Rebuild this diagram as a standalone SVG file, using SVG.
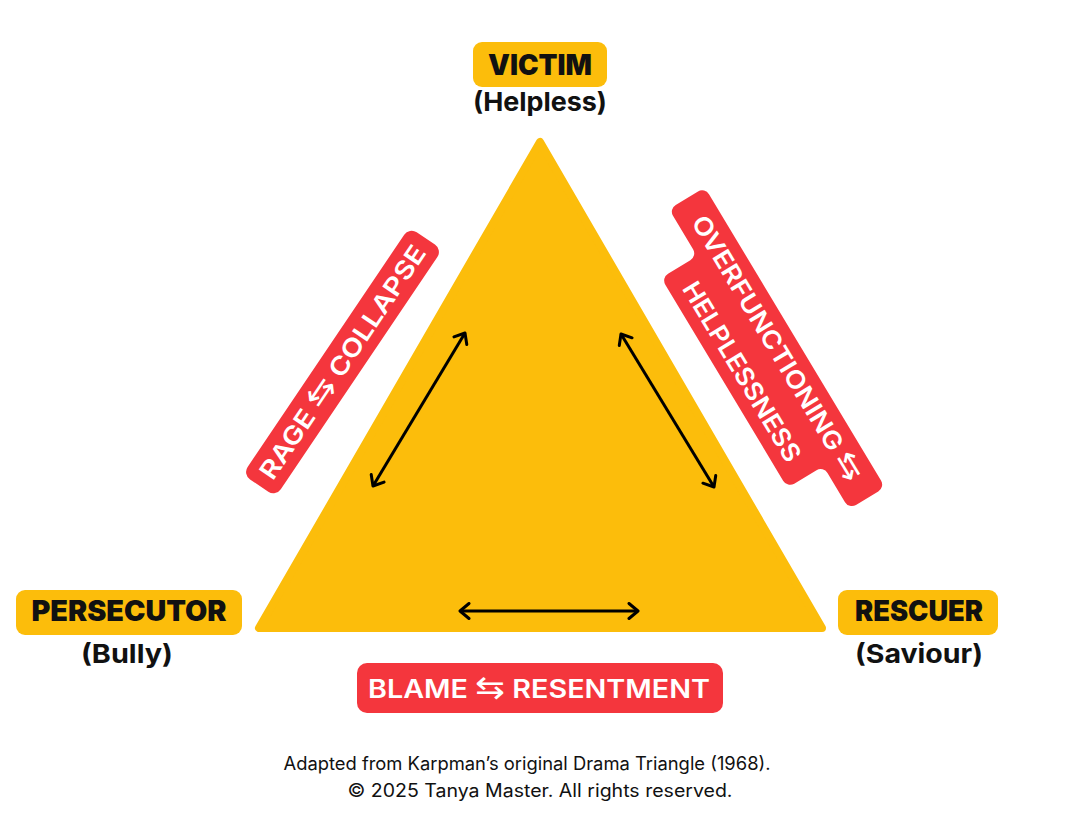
<svg xmlns="http://www.w3.org/2000/svg" width="1080" height="819" viewBox="0 0 1080 819">
<style>
.tag{fill:#FCBD0B}
.role{font-family:Inter,"DejaVu Sans",sans-serif;font-weight:900;font-size:28px;fill:#111;text-anchor:middle}
.sub{font-family:Inter,"DejaVu Sans",sans-serif;font-weight:700;font-size:26px;fill:#111;text-anchor:middle}
.red{fill:#F4363D}
.dyn{font-family:Inter,"DejaVu Sans",sans-serif;font-weight:600;font-size:25px;fill:#fff;text-anchor:middle}
.sym{font-family:"DejaVu Sans",sans-serif;font-weight:400;font-size:31px}
.foot{font-family:Inter,"DejaVu Sans",sans-serif;font-weight:400;font-size:18px;fill:#111;text-anchor:middle}
.arr{stroke:#000;stroke-width:3;fill:none;marker-start:url(#ah);marker-end:url(#ah)}
</style>
<defs>
<marker id="ah" markerUnits="userSpaceOnUse" viewBox="0 0 18 18" markerWidth="18" markerHeight="18" refX="15" refY="9" orient="auto-start-reverse">
<path d="M6,1.5 L15,9 L6,16.5" fill="none" stroke="#000" stroke-width="3" stroke-linecap="round" stroke-linejoin="round"/>
</marker>
</defs>
<rect width="1080" height="819" fill="#fff"/>
<g id="triangle">
<polygon points="540,142 259,628 822,628" fill="#FCBD0B" stroke="#FCBD0B" stroke-width="8" stroke-linejoin="round"/>
</g>
<g id="connectors">
<line class="arr" x1="465" y1="333" x2="373" y2="486"/>
<line class="arr" x1="621" y1="334" x2="714" y2="487"/>
<line class="arr" x1="460" y1="611" x2="638" y2="611"/>
</g>
<g id="victim">
<rect class="tag" x="473" y="42" width="134" height="45" rx="9"/>
<text class="role" x="540" y="75" textLength="104" lengthAdjust="spacingAndGlyphs">VICTIM</text>
<text class="sub" x="540" y="111" textLength="134" lengthAdjust="spacingAndGlyphs">(Helpless)</text>
</g>
<g id="persecutor">
<rect class="tag" x="16" y="590" width="226" height="45" rx="9"/>
<text class="role" x="129" y="621" textLength="195" lengthAdjust="spacingAndGlyphs">PERSECUTOR</text>
<text class="sub" x="127" y="663" textLength="92" lengthAdjust="spacingAndGlyphs">(Bully)</text>
</g>
<g id="rescuer">
<rect class="tag" x="838" y="590" width="160" height="45" rx="9"/>
<text class="role" x="919" y="621" textLength="128" lengthAdjust="spacingAndGlyphs">RESCUER</text>
<text class="sub" x="919" y="663" textLength="128" lengthAdjust="spacingAndGlyphs">(Saviour)</text>
</g>
<g id="rage-collapse" transform="translate(342.5,362) rotate(-56)">
<rect class="red" x="-149" y="-20" width="298" height="40" rx="9"/>
<text class="dyn" x="0" y="9" textLength="276" lengthAdjust="spacingAndGlyphs">RAGE <tspan class="sym">⇆</tspan> COLLAPSE</text>
</g>
<g id="overfunctioning-helplessness" transform="translate(759,359) rotate(59)">
<path class="red" d="M-167,-42 H167 A8 8 0 0 1 175,-34 V-8 A8 8 0 0 1 167,0 H133 A8 8 0 0 0 125,8 V34 A8 8 0 0 1 117,42 H-112 A8 8 0 0 1 -120,34 V8 A8 8 0 0 0 -128,0 H-167 A8 8 0 0 1 -175,-8 V-34 A8 8 0 0 1 -167,-42 Z"/>
<text class="dyn" x="0" y="-12" textLength="305" lengthAdjust="spacingAndGlyphs">OVERFUNCTIONING <tspan class="sym">⇆</tspan></text>
<text class="dyn" x="2" y="30" textLength="205" lengthAdjust="spacingAndGlyphs">HELPLESSNESS</text>
</g>
<g id="blame-resentment">
<rect class="red" x="357" y="663" width="366" height="50" rx="10"/>
<text class="dyn" x="539" y="698" textLength="342" lengthAdjust="spacingAndGlyphs">BLAME <tspan class="sym">⇆</tspan> RESENTMENT</text>
</g>
<g id="footer">
<text class="foot" x="527" y="770" textLength="487" lengthAdjust="spacingAndGlyphs">Adapted from Karpman’s original Drama Triangle (1968).</text>
<text class="foot" x="540" y="797" textLength="385" lengthAdjust="spacingAndGlyphs">© 2025 Tanya Master. All rights reserved.</text>
</g>
</svg>
